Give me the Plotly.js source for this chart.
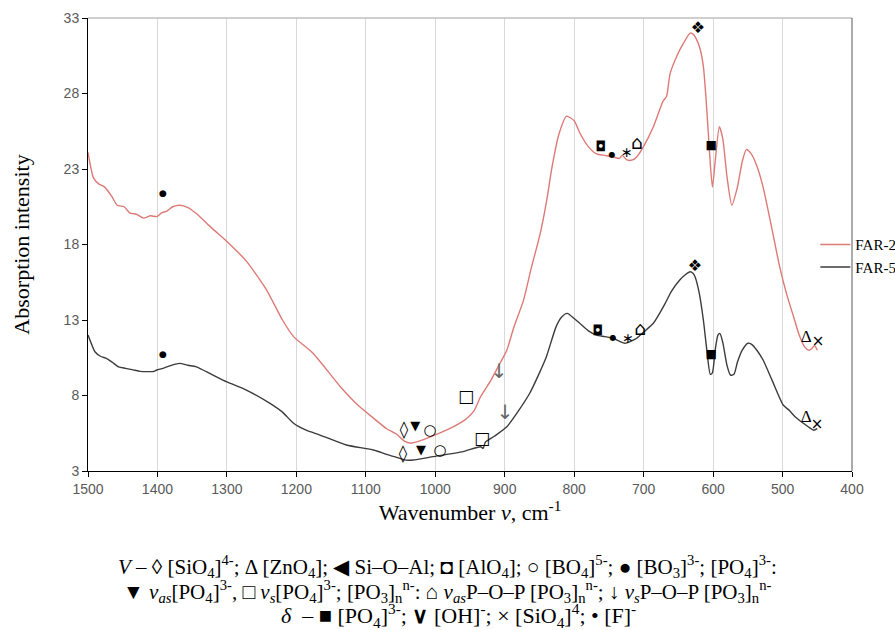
<!DOCTYPE html>
<html>
<head>
<meta charset="utf-8">
<script src="https://cdn.plot.ly/plotly-3.0.1.min.js"></script>
<style>html,body{margin:0;padding:0;background:#fff;}#chart{width:895px;height:630px;}</style>
</head>
<body>
<div id="chart"></div>
<script>
// ---- data ----
const far2X = [1500,1492,1484,1476,1466,1458,1448,1440,1430,1420,1410,1401,1394,1387,1378,1368,1356,1344,1322,1300,1272,1243,1220,1204,1176,1137,1110,1089,1070,1056,1045,1036,1022,1008,984,960,952,944,935,920,906,897,887,873,862,849,840,832,822,811,800,792,780,768,756,744,735,731,724,716,710,700,686,672,667,662,652,643,633,628,624,619,614,609,605,601,597,591,586,580,573,565,558,552,545,537,528,516,504,494,484,476,468,462,458,454,450];
const far2Y = [24.1,22.4,22.0,21.8,21.2,20.6,20.5,20.1,20.0,19.75,19.9,19.85,20.1,20.2,20.5,20.6,20.45,20.05,19.1,18.2,16.9,15.0,13.0,11.9,10.8,8.6,7.3,6.5,5.8,5.45,5.0,4.85,5.0,5.25,5.7,6.3,6.6,7.0,7.9,9.0,10.2,11.0,12.5,14.3,16.4,18.7,20.8,23.1,25.3,26.5,26.2,25.4,24.5,24.0,23.9,23.8,23.7,23.9,23.6,23.6,23.8,24.5,25.8,27.5,27.8,29.3,30.5,31.3,32.0,31.9,31.6,31.0,29.8,26.9,24.0,21.8,23.5,25.8,25.0,22.5,20.6,21.8,23.5,24.3,24.0,23.2,21.8,19.2,16.5,14.7,13.2,12.0,11.2,11.0,11.1,11.3,11.0];

const far5X = [1500,1494,1490,1482,1473,1465,1456,1446,1435,1425,1415,1405,1401,1392,1380,1368,1356,1344,1322,1300,1272,1238,1220,1204,1186,1166,1128,1089,1070,1051,1042,1032,1003,960,935,931,928,915,897,880,864,852,840,826,818,810,800,792,780,768,756,744,735,727,718,710,700,686,675,669,660,648,640,633,629,626,620,614,609,604,601,597,593,590,586,580,575,570,565,558,550,545,537,528,515,499,490,482,470,462,455,450];
const far5Y = [12.0,11.3,10.9,10.6,10.45,10.2,9.9,9.8,9.7,9.6,9.58,9.6,9.69,9.8,10.0,10.13,10.0,9.9,9.4,8.9,8.36,7.48,6.9,6.16,5.7,5.38,4.72,4.39,4.1,3.84,3.72,3.73,3.95,4.28,4.61,4.5,4.9,5.3,5.93,7.0,8.15,9.3,10.57,12.56,13.2,13.44,13.1,12.78,12.3,12.0,11.9,11.79,11.6,11.46,11.6,11.79,12.2,12.78,13.6,14.1,14.9,15.65,16.0,16.2,16.1,15.87,14.8,13.0,11.0,9.4,9.5,11.0,12.0,12.1,11.5,10.0,9.35,9.4,10.2,11.0,11.46,11.4,11.0,10.35,9.0,7.37,7.0,6.6,6.16,5.9,5.7,5.8];

// band-assignment symbols
const bandSymbols = ["●","◊","▼","○","□","↓","◘","●","∗","⌂","❖","■","Δ","×"];
const symFar2X = [1392,1045,1029,1007.6,955.7,908,761.3,745.5,724,709.5,621.7,602.9,466,449];
const symFar2Y = [21.35,5.65,5.9,5.65,7.83,9.5,24.4,23.93,24.0,24.66,32.27,24.52,11.8,11.54];
const symFar5X = [1392,1046.4,1020.5,993.2,932.7,899.6,765.7,744,722.5,705,626,602.9,466,450.3];
const symFar5Y = [10.68,4.06,4.32,4.32,5.05,6.77,12.27,11.8,11.74,12.34,16.5,10.68,6.5,6.05];

const xTicks = [1500,1400,1300,1200,1100,1000,900,800,700,600,500,400];
const yTicks = [3,8,13,18,23,28,33];

// ---- styles ----
const symSizes = [9,17,13,15,17,20,14,8,14,19,16,12,17,15];
const symColors = bandSymbols.map(s => s === "↓" ? "#666" : "#000");
const symFamilies = bandSymbols.map(s => s === "Δ" ? "Liberation Serif" : "DejaVu Sans");

const traces = [
  {x: far2X, y: far2Y, type: 'scatter', mode: 'lines', name: 'FAR-2',
   line: {color: '#dd7a76', width: 1.4, shape: 'spline', smoothing: 0.6}},
  {x: far5X, y: far5Y, type: 'scatter', mode: 'lines', name: 'FAR-5',
   line: {color: '#3c3c3c', width: 1.4, shape: 'spline', smoothing: 0.6}},
  {x: symFar2X, y: symFar2Y, type: 'scatter', mode: 'text', text: bandSymbols, showlegend: false,
   hoverinfo: 'skip', textposition: 'middle center',
   textfont: {family: symFamilies, size: symSizes, color: symColors}},
  {x: symFar5X, y: symFar5Y, type: 'scatter', mode: 'text', text: bandSymbols, showlegend: false,
   hoverinfo: 'skip', textposition: 'middle center',
   textfont: {family: symFamilies, size: symSizes, color: symColors}}
];

const cap1 = "<i>V</i> – ◊ [SiO<sub>4</sub>]<sup>4-</sup>; Δ [ZnO<sub>4</sub>]; ◀ Si–O–Al; ◘ [AlO<sub>4</sub>]; ○ [BO<sub>4</sub>]<sup>5-</sup>; ● [BO<sub>3</sub>]<sup>3-</sup>; [PO<sub>4</sub>]<sup>3-</sup>:";
const cap2 = "▼ <i>v</i><sub><i>as</i></sub>[PO<sub>4</sub>]<sup>3-</sup>, □ <i>v</i><sub><i>s</i></sub>[PO<sub>4</sub>]<sup>3-</sup>; [PO<sub>3</sub>]<sub>n</sub><sup>n-</sup>: ⌂ <i>v</i><sub><i>as</i></sub>P–O–P [PO<sub>3</sub>]<sub>n</sub><sup>n-</sup>; ↓ <i>v</i><sub><i>s</i></sub>P–O–P [PO<sub>3</sub>]<sub>n</sub><sup>n-</sup>";
const cap3 = "<i>δ</i>  – ■ [PO<sub>4</sub>]<sup>3-</sup>; <b>∨</b> [OH]<sup>-</sup>; × [SiO<sub>4</sub>]<sup>4</sup>; • [F]<sup>-</sup>";

const capFont = {family: 'Liberation Serif, Times New Roman, serif', size: 21, color: '#000'};

const layout = {
  width: 895, height: 630,
  margin: {l: 88, r: 43, t: 18, b: 159, autoexpand: false},
  paper_bgcolor: '#fff', plot_bgcolor: '#fff',
  showlegend: true,
  legend: {x: 0.952, xanchor: 'left', y: 0.536, yanchor: 'top', bgcolor: 'rgba(0,0,0,0)',
           font: {family: 'Liberation Serif, Times New Roman, serif', size: 15, color: '#000'},
           tracegroupgap: 0, itemwidth: 30},
  xaxis: {
    range: [1500, 400], tickvals: xTicks, ticktext: xTicks.map(String),
    showgrid: true, gridcolor: '#d9d9d9', gridwidth: 1,
    zeroline: false, showline: true, linecolor: '#000', linewidth: 1,
    ticks: 'outside', ticklen: 5, tickcolor: '#000',
    tickfont: {family: 'Liberation Sans Narrow, Liberation Sans, sans-serif', size: 14, color: '#595959'},
    title: {text: 'Wavenumber <i>v</i>, cm<sup>-1</sup>', standoff: 8,
            font: {family: 'Liberation Serif, Times New Roman, serif', size: 22, color: '#000'}}
  },
  yaxis: {
    range: [3, 33], tickvals: yTicks, ticktext: yTicks.map(String),
    showgrid: false, zeroline: false, showline: true, linecolor: '#000', linewidth: 1,
    ticks: 'outside', ticklen: 5, tickcolor: '#000',
    tickfont: {family: 'Liberation Sans Narrow, Liberation Sans, sans-serif', size: 14, color: '#595959'},
    title: {text: 'Absorption intensity', standoff: 27,
            font: {family: 'Liberation Serif, Times New Roman, serif', size: 22, color: '#000'}}
  },
  shapes: [
    {type: 'line', xref: 'paper', yref: 'paper', x0: 0, x1: 1, y0: 1, y1: 1, line: {color: '#bfbfbf', width: 1.5}},
    {type: 'line', xref: 'paper', yref: 'paper', x0: 1, x1: 1, y0: 0, y1: 1, line: {color: '#595959', width: 1}}
  ],
  annotations: [
    {xref: 'paper', yref: 'paper', x: 0.471, y: -0.21, yanchor: 'middle', showarrow: false, text: cap1, font: capFont},
    {xref: 'paper', yref: 'paper', x: 0.471, y: -0.265, yanchor: 'middle', showarrow: false, text: cap2, font: capFont},
    {xref: 'paper', yref: 'paper', x: 0.485, y: -0.318, yanchor: 'middle', showarrow: false, text: cap3,
     font: {family: 'Liberation Serif, Times New Roman, serif', size: 22, color: '#000'}}
  ]
};

Plotly.newPlot('chart', traces, layout, {displayModeBar: false, staticPlot: true});
</script>
</body>
</html>
